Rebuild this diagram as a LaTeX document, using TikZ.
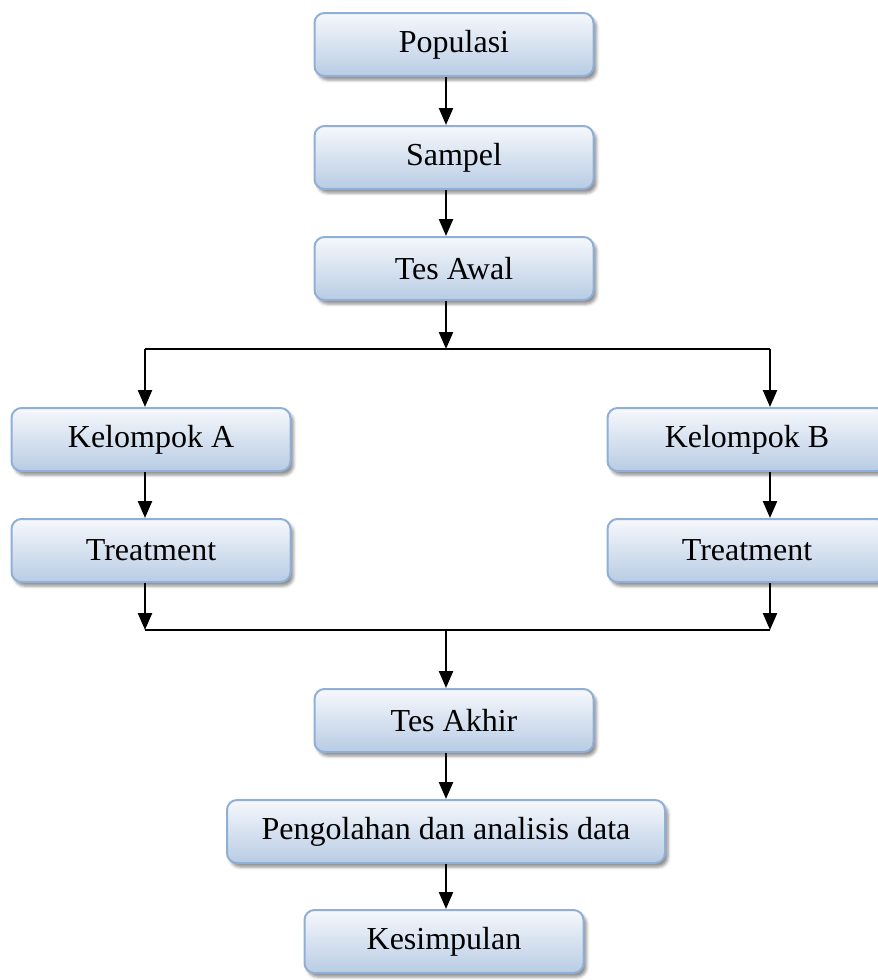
\documentclass[tikz,border=0pt]{standalone}
\usepackage{fontspec}
\setmainfont{Liberation Serif}
\usetikzlibrary{arrows.meta,shadows.blur}
\definecolor{boxtop}{HTML}{F6F8FC}
\definecolor{boxbot}{HTML}{B8CCE4}
\definecolor{boxline}{HTML}{8FAFD7}
\tikzset{
    stage/.style={rectangle, rounded corners=10pt, draw=boxline, line width=2pt,
        top color=boxtop, bottom color=boxbot, minimum width=279pt, minimum height=63pt,
        inner sep=0pt, font=\fontsize{32}{36}\selectfont,
        blur shadow={shadow xshift=3pt, shadow yshift=-4pt, shadow blur radius=3pt, shadow opacity=45}},
    flow/.style={line width=2.4pt, -{Triangle[width=14pt,length=17pt]}},
    busline/.style={line width=2.4pt}
}
\begin{document}
\begin{tikzpicture}[x=1pt, y=-1pt]
    % page frame of the reference
    \useasboundingbox (0,0) rectangle (878,980);
    \clip (0,0) rectangle (878,980);

    % main column
    \node[stage] (pop) at (454,44.5) {Populasi};
    \node[stage] (sampel) at (454,157.5) {Sampel};
    \node[stage] (tesawal) at (454,268.5) {Tes Awal};

    % two groups
    \node[stage] (kelA) at (151,439.5) {Kelompok A};
    \node[stage] (trA) at (151,550.5) {Treatment};
    \node[stage] (kelB) at (747,439.5) {Kelompok B};
    \node[stage] (trB) at (747,550.5) {Treatment};

    % closing column
    \node[stage] (tesakhir) at (454,720.5) {Tes Akhir};
    \node[stage, minimum width=438pt] (olah) at (446,831.5) {Pengolahan dan analisis data};
    \node[stage] (simpul) at (444,941.5) {Kesimpulan};

    % branch points
    \coordinate (split) at (446,349);
    \coordinate (splitA) at (145,349);
    \coordinate (splitB) at (770,349);
    \coordinate (mergeA) at (145,630);
    \coordinate (mergeB) at (770,630);
    \coordinate (merge) at (446,630);

    % arrows
    \draw[flow] ([xshift=-8pt]pop.south) -- ([xshift=-8pt]sampel.north);
    \draw[flow] ([xshift=-8pt]sampel.south) -- ([xshift=-8pt]tesawal.north);
    \draw[flow] ([xshift=-8pt]tesawal.south) -- (split);
    \draw[busline] (splitA) -- (splitB);
    \draw[flow] (splitA) -- (splitA |- kelA.north);
    \draw[flow] (splitB) -- (splitB |- kelB.north);
    \draw[flow] (splitA |- kelA.south) -- (splitA |- trA.north);
    \draw[flow] (splitB |- kelB.south) -- (splitB |- trB.north);
    \draw[flow] (mergeA |- trA.south) -- (mergeA);
    \draw[flow] (mergeB |- trB.south) -- (mergeB);
    \draw[busline] (mergeA) -- (mergeB);
    \draw[flow] (merge) -- (merge |- tesakhir.north);
    \draw[flow] (merge |- tesakhir.south) -- (merge |- olah.north);
    \draw[flow] (merge |- olah.south) -- (merge |- simpul.north);
\end{tikzpicture}
\end{document}
